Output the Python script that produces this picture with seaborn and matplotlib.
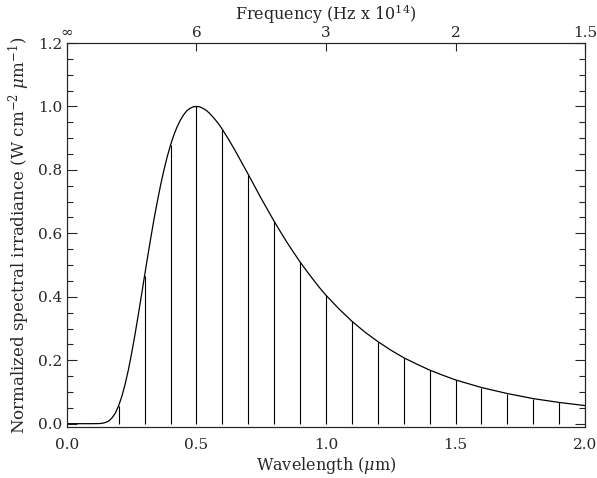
import numpy as np
import pandas as pd
import matplotlib
matplotlib.use("Agg")
import matplotlib.pyplot as plt
from matplotlib.ticker import MultipleLocator, FormatStrFormatter
import seaborn as sns

# curve (wavelength in um, normalized irradiance)
wavelength = [0.0, 0.05, 0.1, 0.125, 0.1375, 0.15, 0.1625, 0.175, 0.1875,
              0.2, 0.2125, 0.225, 0.2375, 0.25, 0.2625, 0.275, 0.2875,
              0.3, 0.3125, 0.325, 0.3375, 0.35, 0.3625, 0.375, 0.3875,
              0.4, 0.4125, 0.425, 0.4375, 0.45, 0.4625, 0.475, 0.4875,
              0.5, 0.5125, 0.525, 0.5375, 0.55, 0.5625, 0.575, 0.5875,
              0.6, 0.625, 0.65, 0.675, 0.7, 0.725, 0.75, 0.775,
              0.8, 0.825, 0.85, 0.875, 0.9, 0.925, 0.95, 0.975,
              1.0, 1.05, 1.1, 1.15, 1.2, 1.25, 1.3, 1.35, 1.4, 1.45,
              1.5, 1.6, 1.7, 1.8, 1.9, 2.0]
irradiance = [0.0, 0.0, 0.0, 0.0004, 0.0013, 0.004, 0.009, 0.019, 0.034,
              0.057, 0.087, 0.125, 0.170, 0.222, 0.279, 0.340, 0.403,
              0.467, 0.530, 0.591, 0.650, 0.704, 0.755, 0.801, 0.842,
              0.878, 0.909, 0.935, 0.956, 0.973, 0.986, 0.994, 0.999,
              1.0, 0.999, 0.994, 0.988, 0.979, 0.968, 0.956, 0.943,
              0.928, 0.895, 0.860, 0.823, 0.786, 0.748, 0.710, 0.674,
              0.638, 0.604, 0.571, 0.540, 0.510, 0.482, 0.455, 0.429,
              0.405, 0.362, 0.323, 0.289, 0.259, 0.232, 0.208, 0.188, 0.169, 0.153,
              0.138, 0.114, 0.095, 0.079, 0.067, 0.057]

stem_wavelength = [0.2, 0.3, 0.4, 0.5, 0.6, 0.7, 0.8, 0.9, 1.0, 1.1,
                   1.2, 1.3, 1.4, 1.5, 1.6, 1.7, 1.8, 1.9, 2.0]

# top axis: frequency labels (Hz x 1e14) at matching wavelengths
freq_pos = [0.0, 0.5, 1.0, 1.5, 2.0]
freq_labels = ['\u221e', '6', '3', '2', '1.5']

df = pd.DataFrame({'wavelength': wavelength, 'irradiance': irradiance})
stems = df[df['wavelength'].round(4).isin(np.round(stem_wavelength, 4))]

sns.set_style("ticks")
plt.rcParams['font.family'] = ['DejaVu Serif']
plt.rcParams['mathtext.fontset'] = 'dejavuserif'

fig = plt.figure(figsize=(5.97, 4.78), dpi=100)
ax = fig.add_axes([0.112, 0.107, 0.868, 0.803])

sns.lineplot(data=df, x='wavelength', y='irradiance', ax=ax,
             color='black', linewidth=0.9, sort=True)
ax.vlines(stems['wavelength'], 0, stems['irradiance'], color='black', linewidth=0.8)

ax.set_xlim(0, 2.0)
ax.set_ylim(-0.01, 1.2)
ax.xaxis.set_major_locator(MultipleLocator(0.5))
ax.yaxis.set_major_locator(MultipleLocator(0.2))
ax.yaxis.set_minor_locator(MultipleLocator(0.05))
ax.xaxis.set_major_formatter(FormatStrFormatter('%.1f'))
ax.yaxis.set_major_formatter(FormatStrFormatter('%.1f'))
ax.tick_params(axis='y', which='major', direction='in', length=7, width=0.8,
               left=True, right=True, labelsize=11)
ax.tick_params(axis='y', which='minor', direction='in', length=4, width=0.8,
               left=True, right=True)
ax.tick_params(axis='x', which='major', direction='in', length=0, labelsize=11, pad=8)

ax.set_xlabel('Wavelength ($\\mu$m)', fontsize=11.5, labelpad=2)
ax.set_ylabel('Normalized spectral irradiance (W cm$^{-2}$ $\\mu$m$^{-1}$)',
              fontsize=12, labelpad=4)

for s in ax.spines.values():
    s.set_linewidth(0.8)

top = ax.twiny()
top.set_xlim(ax.get_xlim())
top.set_xticks(freq_pos)
top.set_xticklabels(freq_labels)
top.tick_params(axis='x', direction='in', length=6, width=0.8, labelsize=11, pad=2)
for s in top.spines.values():
    s.set_linewidth(0.8)

fig.text(0.546, 0.97, 'Frequency (Hz x 10$^{14}$)', ha='center', va='center', fontsize=11.5)

fig.savefig('out.png', dpi=100)
